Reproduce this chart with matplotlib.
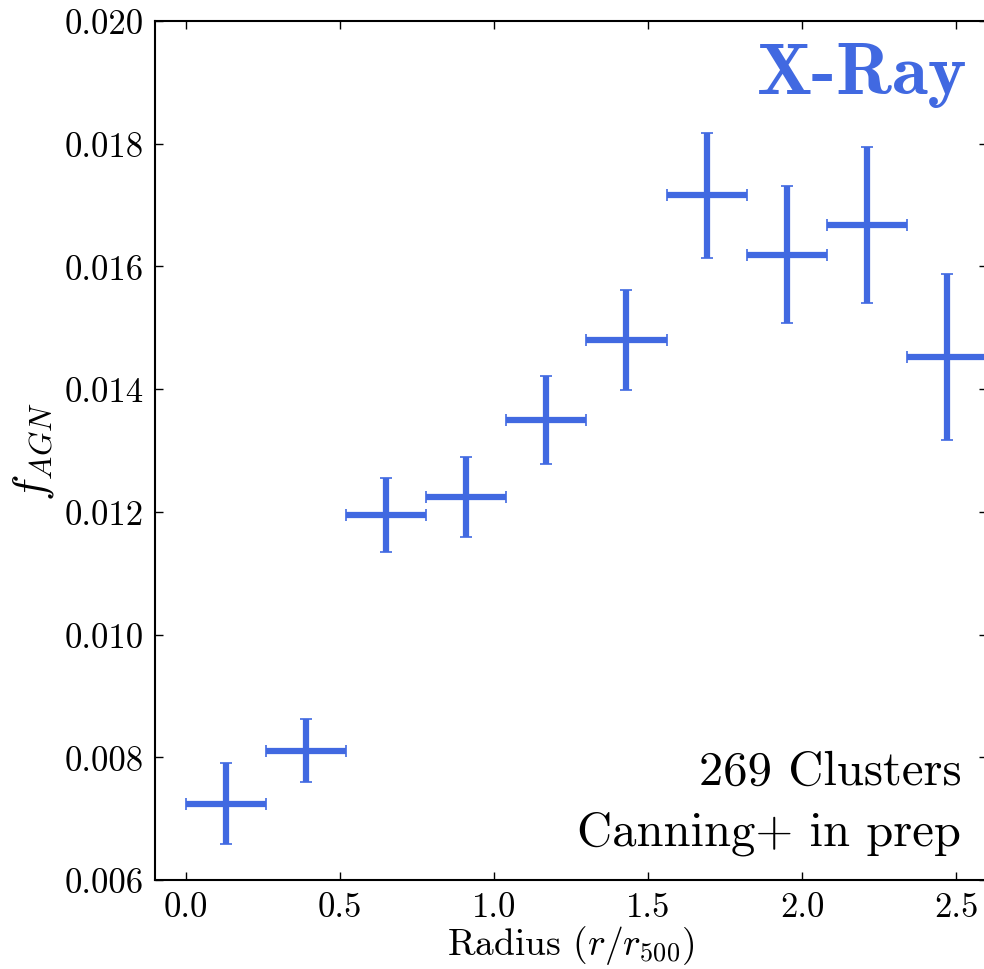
import os
import numpy as np
import matplotlib
matplotlib.use("Agg")
import matplotlib.pyplot as plt
from matplotlib.font_manager import FontProperties

# radial bins (r/r500) and AGN fraction
bin_centers = [0.13, 0.39, 0.65, 0.91, 1.17, 1.43, 1.69, 1.95, 2.21, 2.47]
bin_halfwidth = [0.13] * 10
f_agn = [0.00724, 0.00811, 0.01195, 0.01224, 0.01350, 0.01480,
         0.01716, 0.01619, 0.01668, 0.01452]
f_err = [0.00066, 0.00052, 0.00060, 0.00065, 0.00072, 0.00082,
         0.00102, 0.00112, 0.00127, 0.00135]

plt.rcParams['font.family'] = 'cmr10'
plt.rcParams['mathtext.fontset'] = 'cm'
plt.rcParams['axes.formatter.use_mathtext'] = True

bold_cm = FontProperties(fname=os.path.join(matplotlib.get_data_path(), 'fonts/ttf/cmb10.ttf'), size=53)

fig = plt.figure(figsize=(9.84, 9.70), dpi=100)
ax = fig.add_axes([155 / 984, 1 - 881 / 970, 832 / 984, 859 / 970])

ax.errorbar(bin_centers, f_agn, xerr=bin_halfwidth, yerr=f_err, fmt='none',
            ecolor='royalblue', elinewidth=4.5, capsize=4, capthick=1.2)

ax.set_xlim(-0.1, 2.6)
ax.set_ylim(0.006, 0.020)
ax.set_xticks([0.0, 0.5, 1.0, 1.5, 2.0, 2.5])
ax.set_yticks(np.arange(0.006, 0.0201, 0.002))
ax.set_xticklabels(['0.0', '0.5', '1.0', '1.5', '2.0', '2.5'])
ax.set_yticklabels(['0.006', '0.008', '0.010', '0.012', '0.014', '0.016', '0.018', '0.020'])
ax.tick_params(direction='in', top=True, right=True, length=6, width=1, labelsize=25, pad=8)
for sp in ax.spines.values():
    sp.set_linewidth(1.5)

ax.set_xlabel(r'Radius ($r/r_{500}$)', fontsize=27, labelpad=0)
ax.set_ylabel(r'$f_{AGN}$', fontsize=32, labelpad=6)

ax.text(0.977, 0.938, 'X-Ray', transform=ax.transAxes, ha='right', va='center',
        color='royalblue', fontproperties=bold_cm)
ax.text(0.969, 0.112, '269 Clusters', transform=ax.transAxes, ha='right',
        va='baseline', fontsize=35)
ax.text(0.969, 0.041, 'Canning+ in prep', transform=ax.transAxes, ha='right',
        va='baseline', fontsize=35)

fig.savefig('out.png', dpi=100)
